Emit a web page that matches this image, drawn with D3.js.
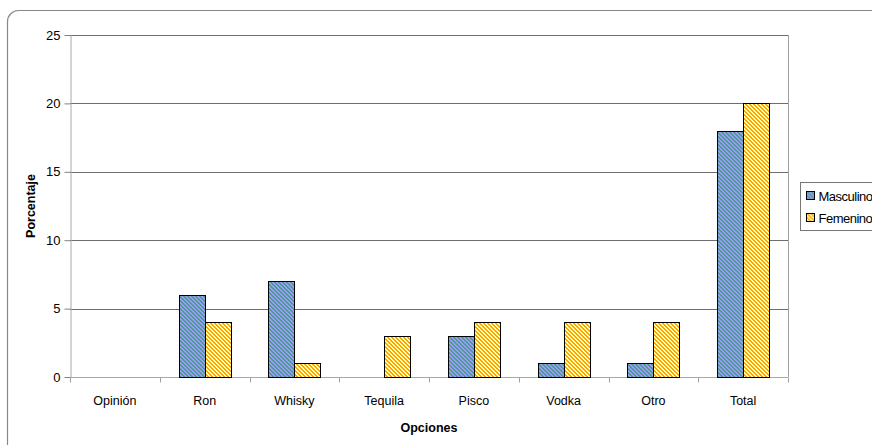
<!DOCTYPE html>
<html>
<head>
<meta charset="utf-8">
<script src="https://cdn.jsdelivr.net/npm/d3@7"></script>
<style>
  html, body { margin: 0; padding: 0; background: #fff; }
  svg { display: block; font-family: "Liberation Sans", Arial, sans-serif; }
</style>
</head>
<body>
<svg id="chart" width="872" height="445"></svg>
<script>
// Consumo preferido por sexo (porcentaje)
const categories = ["Opinión", "Ron", "Whisky", "Tequila", "Pisco", "Vodka", "Otro", "Total"];
const seriesNames = ["Masculino", "Femenino"];
const masculino = [0, 6, 7, 0, 3, 1, 1, 18];
const femenino  = [0, 4, 1, 3, 4, 4, 4, 20];
const yTicks = [0, 5, 10, 15, 20, 25];

const svg = d3.select("#chart");
const plot = { left: 70, right: 788, top: 35, bottom: 377 };

// Pixel-aligned downward diagonal hatching for the two series
const defs = svg.append("defs");
function hatch(id, bg, fg) {
  const p = defs.append("pattern")
    .attr("id", id)
    .attr("patternUnits", "userSpaceOnUse")
    .attr("width", 4).attr("height", 4);
  p.append("rect").attr("width", 4).attr("height", 4).attr("fill", bg);
  const cells = [];
  for (let yy = 0; yy < 4; yy++)
    for (let xx = 0; xx < 4; xx++)
      if (((xx - yy) % 4 + 4) % 4 < 2) cells.push([xx, yy]);
  p.selectAll("rect.c").data(cells).join("rect")
    .attr("class", "c")
    .attr("x", d => d[0]).attr("y", d => d[1])
    .attr("width", 1).attr("height", 1)
    .attr("shape-rendering", "crispEdges")
    .attr("fill", fg);
}
hatch("hatchM", "#9c9cff", "#4c9a8e");
hatch("hatchF", "#ffffb0", "#ffa200");
const fills = ["url(#hatchM)", "url(#hatchF)"];

// Outer chart frame with rounded corner (extends past the window edge)
svg.append("rect")
  .attr("x", 7.5).attr("y", 10.5)
  .attr("width", 900).attr("height", 460)
  .attr("rx", 11).attr("ry", 11)
  .attr("fill", "none")
  .attr("stroke", "#888").attr("stroke-width", 1.2);

const x = d3.scaleBand().domain(categories).range([plot.left, plot.right]);
const y = d3.scaleLinear().domain([0, 25]).range([plot.bottom, plot.top]);
const barW = Math.round(x.bandwidth() * 0.29);
const xs = d3.scaleBand().domain(seriesNames).range([0, barW * 2]);

// Horizontal gridlines
svg.append("g").selectAll("line")
  .data(yTicks.filter(d => d > 0))
  .join("line")
  .attr("x1", plot.left).attr("x2", plot.right)
  .attr("y1", d => Math.round(y(d)) + 0.5).attr("y2", d => Math.round(y(d)) + 0.5)
  .attr("stroke", "#6e6e6e").attr("stroke-width", 1);

// Right border of the plot area
svg.append("line")
  .attr("x1", plot.right + 0.5).attr("x2", plot.right + 0.5)
  .attr("y1", plot.top).attr("y2", plot.bottom)
  .attr("stroke", "#a0a0a0");

// Y axis
const yAxis = svg.append("g")
  .attr("transform", `translate(${plot.left + 0.5},0)`)
  .call(d3.axisLeft(y).tickValues(yTicks).tickSize(6).tickPadding(4).tickSizeOuter(0));
yAxis.select(".domain").attr("stroke", "#a8a8a8");
yAxis.selectAll(".tick line").attr("stroke", "#808080");
yAxis.selectAll(".tick text")
  .attr("fill", "#000").attr("font-size", 13)
  .attr("font-family", "Liberation Sans, Arial, sans-serif");

// X axis with ticks at category boundaries
const xAxisG = svg.append("g")
  .attr("transform", `translate(0,${plot.bottom + 0.5})`);
xAxisG.append("line")
  .attr("x1", plot.left).attr("x2", plot.right)
  .attr("stroke", "#a8a8a8");
const bounds = d3.range(categories.length + 1).map(i => plot.left + i * x.step());
xAxisG.selectAll(".b").data(bounds).join("line")
  .attr("x1", d => Math.round(d) + 0.5).attr("x2", d => Math.round(d) + 0.5)
  .attr("y1", 0).attr("y2", 5)
  .attr("stroke", "#a0a0a0");
xAxisG.selectAll("text").data(categories).join("text")
  .attr("x", d => x(d) + x.bandwidth() / 2)
  .attr("y", 27)
  .attr("text-anchor", "middle")
  .attr("font-size", 12.5)
  .text(d => d);

// Bars
const rows = categories.map((c, i) => ({ c, vals: [masculino[i], femenino[i]] }));
const groups = svg.append("g").selectAll("g")
  .data(rows).join("g")
  .attr("transform", d => `translate(${Math.round(x(d.c) + (x.bandwidth() - barW * 2) / 2)},0)`);
groups.selectAll("rect")
  .data(d => d.vals.map((v, k) => ({ v, k })).filter(e => e.v > 0))
  .join("rect")
  .attr("x", e => xs(seriesNames[e.k]) + 0.5)
  .attr("y", e => Math.round(y(e.v)) + 0.5)
  .attr("width", xs.bandwidth())
  .attr("height", e => Math.round(y(0)) - Math.round(y(e.v)))
  .attr("fill", e => fills[e.k])
  .attr("stroke", "#000").attr("stroke-width", 1);

// Axis titles
svg.append("text")
  .attr("transform", `translate(35,${(plot.top + plot.bottom) / 2}) rotate(-90)`)
  .attr("text-anchor", "middle")
  .attr("font-size", 12.5).attr("font-weight", "bold")
  .text("Porcentaje");
svg.append("text")
  .attr("x", (plot.left + plot.right) / 2).attr("y", 432)
  .attr("text-anchor", "middle")
  .attr("font-size", 12.5).attr("font-weight", "bold")
  .text("Opciones");

// Legend
const lg = svg.append("g").attr("transform", "translate(800.5,182.5)");
lg.append("rect").attr("width", 100).attr("height", 48)
  .attr("fill", "#fff").attr("stroke", "#777");
seriesNames.forEach((name, k) => {
  const row = lg.append("g").attr("transform", `translate(6,${9 + k * 22})`);
  row.append("rect").attr("width", 8).attr("height", 8)
    .attr("fill", fills[k]).attr("stroke", "#000");
  row.append("text").attr("x", 12).attr("y", 9)
    .attr("font-size", 13).attr("letter-spacing", -0.5)
    .text(name);
});
</script>
</body>
</html>
